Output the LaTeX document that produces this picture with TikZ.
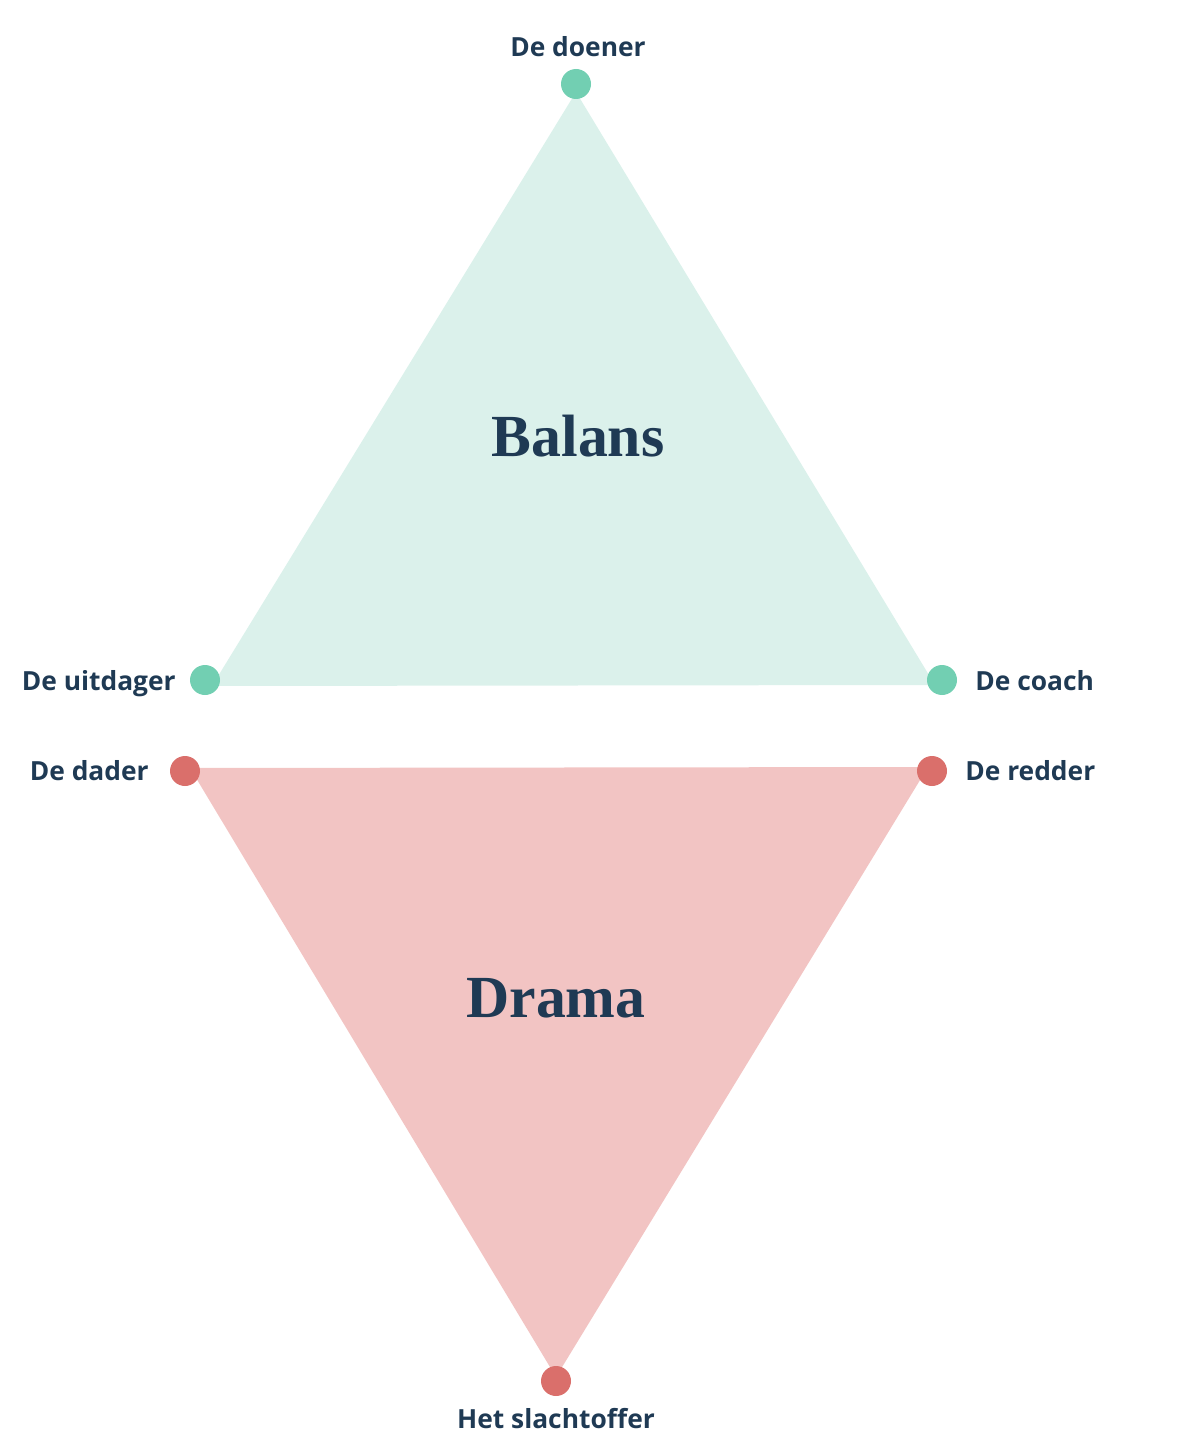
\documentclass[tikz,border=0pt]{standalone}
\usepackage{fontspec}
\setmainfont{Open Sans}
\newfontfamily\titlefont{Liberation Serif}
\definecolor{txt}{HTML}{1F3A54}
\definecolor{gfill}{HTML}{DBF1EB}
\definecolor{gdot}{HTML}{72CFB2}
\definecolor{rfill}{HTML}{F2C4C3}
\definecolor{rdot}{HTML}{DA6F6B}
\tikzset{
  lbl/.style={font=\fontsize{15}{18}\selectfont\bfseries, text=txt, inner sep=0pt, anchor=base},
  ttl/.style={font=\titlefont\fontsize{34}{40}\selectfont\bfseries, text=txt, inner sep=0pt, anchor=base},
  gpt/.style={circle, fill=gdot, minimum size=30\pgflinewidth, inner sep=0pt},
  rpt/.style={circle, fill=rdot, minimum size=30\pgflinewidth, inner sep=0pt},
}
\begin{document}
\begin{tikzpicture}[x=0.02cm,y=-0.02cm]
\useasboundingbox (0,0) rectangle (1179,1439);
% green triangle
\coordinate (gA) at (576,92);
\coordinate (gB) at (212,686);
\coordinate (gC) at (935,685);
\fill[gfill, rounded corners=3pt] (gA) -- (gB) -- (gC) -- cycle;
% red triangle
\coordinate (rA) at (190,768);
\coordinate (rB) at (928,767);
\coordinate (rC) at (556,1377);
\fill[rfill, rounded corners=3pt] (rA) -- (rB) -- (rC) -- cycle;
% dots
\node[circle, fill=gdot, minimum size=0.6cm, inner sep=0pt] (doener) at (576,84) {};
\node[circle, fill=gdot, minimum size=0.6cm, inner sep=0pt] (uitdager) at (205,680) {};
\node[circle, fill=gdot, minimum size=0.6cm, inner sep=0pt] (coach) at (942,680) {};
\node[circle, fill=rdot, minimum size=0.6cm, inner sep=0pt] (dader) at (185,771) {};
\node[circle, fill=rdot, minimum size=0.6cm, inner sep=0pt] (redder) at (932,771) {};
\node[circle, fill=rdot, minimum size=0.6cm, inner sep=0pt] (slachtoffer) at (556,1381) {};
% labels
\node[lbl] (ldoener) at (578,57) {De doener};
\node[lbl, anchor=base east] (luitdager) at (176,690) {De uitdager};
\node[lbl, anchor=base west] (lcoach) at (975,690) {De coach};
\node[lbl, anchor=base east] (ldader) at (149,780) {De dader};
\node[lbl, anchor=base west] (lredder) at (965,780) {De redder};
\node[lbl] (lslacht) at (556,1428) {Het slachtoffer};
% titles
\node[ttl] (balans) at (578,456) {Balans};
\node[ttl] (drama) at (556,1017) {Drama};
\end{tikzpicture}
\end{document}
